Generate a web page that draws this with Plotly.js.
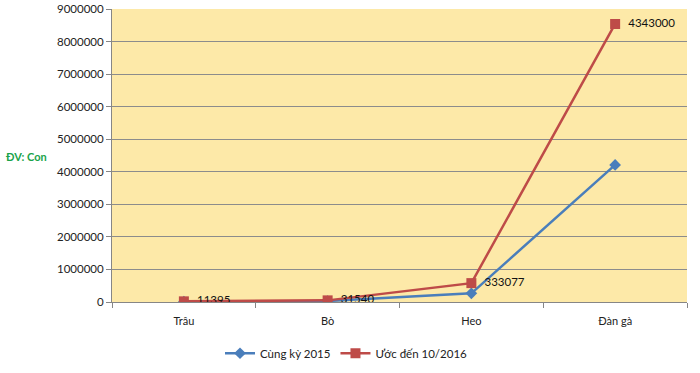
<!DOCTYPE html>
<html>
<head>
<meta charset="utf-8">
<script src="https://cdn.plot.ly/plotly-3.0.1.min.js"></script>
<style>html,body{margin:0;padding:0;background:#fff;}#chart{width:700px;height:373px;}</style>
</head>
<body>
<div id="chart"></div>
<script>
const categories = ["Trâu", "Bò", "Heo", "Đàn gà"];
const cungKy2015 = [10000, 30000, 266000, 4210000];
const uocDen2016 = [20000, 50000, 580000, 8540000];
const dataLabels = ["11395", "31540", "333077", "4343000"];
const yTicks = [0, 1000000, 2000000, 3000000, 4000000, 5000000, 6000000, 7000000, 8000000, 9000000];

const font = {family: "Lato, 'Open Sans', sans-serif", size: 11, color: "#222"};

const traces = [
  {
    x: categories, y: cungKy2015, name: "Cùng kỳ 2015", type: "scatter", mode: "lines+markers",
    line: {color: "#4a7ebb", width: 2.5},
    marker: {symbol: "diamond", size: 9, color: "#4a7ebb"}
  },
  {
    x: categories, y: uocDen2016, name: "Ước đến 10/2016", type: "scatter", mode: "lines+markers+text",
    line: {color: "#be4b48", width: 2.5},
    marker: {symbol: "square", size: 10, color: "#be4b48"},
    text: dataLabels.map(s => "\u00a0\u00a0" + s), textposition: "middle right",
    textfont: {family: font.family, size: 11.5, color: "#111"}
  }
];

const layout = {
  width: 700, height: 373,
  margin: {l: 112, r: 13, t: 9, b: 71, autoexpand: false},
  paper_bgcolor: "#ffffff",
  plot_bgcolor: "#fde9a8",
  font: font,
  showlegend: true,
  legend: {orientation: "h", xref: "container", yref: "container", x: 0.495, xanchor: "center", y: 0.053, yanchor: "middle", font: {family: font.family, size: 11.5, color: "#222"}},
  xaxis: {
    type: "category", range: [-0.5, 3.5], fixedrange: true,
    tickson: "boundaries", ticks: "outside", ticklen: 5, tickcolor: "#868686",
    ticklabelstandoff: 9,
    showline: true, linecolor: "#868686", linewidth: 1,
    showgrid: false, zeroline: false,
    tickfont: {family: font.family, size: 11, color: "#222"}
  },
  yaxis: {
    range: [0, 9000000], tickvals: yTicks, ticktext: yTicks.map(String),
    ticks: "outside", ticklen: 5, tickcolor: "#868686",
    showline: true, linecolor: "#868686", linewidth: 1,
    showgrid: true, gridcolor: "#8c8c8c", gridwidth: 1, zeroline: false,
    tickfont: {family: font.family, size: 11.5, color: "#222"}
  },
  annotations: [{
    text: "<b>ĐV: Con</b>", xref: "paper", yref: "paper", x: -0.188, y: 0.495, xanchor: "left", yanchor: "middle",
    showarrow: false, font: {family: font.family, size: 11, color: "#1aa34a"}
  }]
};

Plotly.newPlot("chart", traces, layout, {displayModeBar: false, staticPlot: true});
</script>
</body>
</html>
